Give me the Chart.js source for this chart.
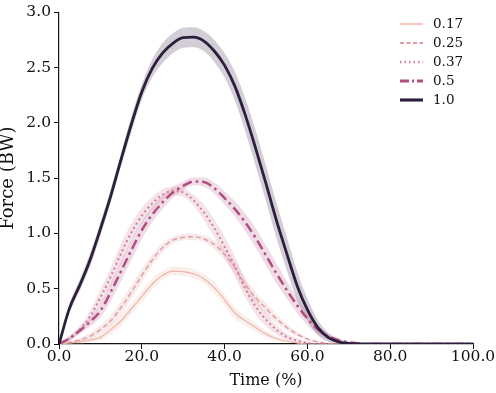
<!DOCTYPE html>
<html><head><meta charset="utf-8">
<script src="https://cdn.jsdelivr.net/npm/chart.js@4/dist/chart.umd.min.js"></script>
<style>html,body{margin:0;padding:0;background:#fff}canvas{display:block}</style>
</head><body>
<canvas id="c" width="496" height="393"></canvas>
<script>
// ---- data ----
const time = [0,2.5,5,7.5,10,12.5,15,17.5,20,22.5,25,27.5,30,32.5,35,37.5,40,42.5,45,47.5,50,52.5,55,57.5,60,62.5,65,67.5,70,75,80,85,90,95,100];
const seriesNames = ['0.17','0.25','0.37','0.5','1.0'];
const force017 = [0,0.01,0.02,0.035,0.06,0.13,0.21,0.32,0.43,0.54,0.62,0.66,0.655,0.635,0.59,0.51,0.4,0.28,0.21,0.15,0.09,0.05,0.025,0.01,0,0,0,0,0,0,0,0,0,0,0];
const force025 = [0,0.015,0.035,0.07,0.13,0.21,0.33,0.47,0.62,0.76,0.87,0.94,0.965,0.97,0.95,0.9,0.81,0.69,0.54,0.42,0.32,0.23,0.15,0.09,0.045,0.02,0.005,0,0,0,0,0,0,0,0];
const force037 = [0,0.05,0.13,0.25,0.42,0.61,0.82,1.01,1.16,1.27,1.35,1.385,1.37,1.3,1.19,1.05,0.88,0.7,0.5,0.34,0.22,0.13,0.065,0.03,0.01,0,0,0,0,0,0,0,0,0,0];
const force050 = [0,0.05,0.12,0.2,0.3,0.47,0.66,0.85,1.03,1.17,1.28,1.37,1.43,1.47,1.465,1.41,1.32,1.22,1.1,0.96,0.8,0.64,0.49,0.35,0.23,0.13,0.07,0.035,0.015,0,0,0,0,0,0];
const force100 = [0,0.32,0.53,0.76,1.04,1.34,1.67,1.99,2.28,2.49,2.63,2.72,2.77,2.775,2.74,2.65,2.52,2.33,2.07,1.77,1.45,1.12,0.82,0.53,0.31,0.15,0.06,0.02,0.005,0,0,0,0,0,0];
// band half-widths (confidence band)
const spread017 = [0,0.01,0.02,0.02,0.03,0.04,0.05,0.05,0.05,0.05,0.04,0.04,0.04,0.04,0.04,0.05,0.05,0.05,0.04,0.04,0.03,0.02,0.01,0,0,0,0,0,0,0,0,0,0,0,0];
const spread025 = [0,0.01,0.02,0.03,0.04,0.05,0.06,0.06,0.06,0.05,0.04,0.03,0.03,0.03,0.03,0.04,0.05,0.06,0.06,0.05,0.05,0.04,0.03,0.02,0.01,0.01,0,0,0,0,0,0,0,0,0];
const spread037 = [0,0.02,0.03,0.05,0.07,0.08,0.09,0.08,0.07,0.06,0.05,0.04,0.04,0.05,0.07,0.08,0.09,0.09,0.08,0.07,0.06,0.04,0.03,0.02,0.01,0,0,0,0,0,0,0,0,0,0];
const spread050 = [0,0.02,0.03,0.04,0.06,0.08,0.09,0.09,0.08,0.07,0.06,0.05,0.04,0.035,0.04,0.05,0.06,0.07,0.08,0.09,0.09,0.09,0.08,0.07,0.06,0.04,0.03,0.02,0.01,0,0,0,0,0,0];
const spread100 = [0,0.04,0.05,0.06,0.06,0.06,0.06,0.07,0.07,0.08,0.09,0.09,0.09,0.09,0.09,0.1,0.11,0.13,0.15,0.16,0.16,0.16,0.15,0.13,0.1,0.07,0.04,0.02,0.01,0,0,0,0,0,0];
const xTicks = [0,20,40,60,80,100];
const yTicks = [0,0.5,1,1.5,2,2.5,3];

// ---- styles ----
const means = [force017, force025, force037, force050, force100];
const spreads = [spread017, spread025, spread037, spread050, spread100];
const colors = ['#ecb6a8','#e09da3','#cf7f9c','#b24f80','#2d1e3e'];
const bandColors = ['rgba(236,182,168,0.22)','rgba(224,157,163,0.22)','rgba(207,127,156,0.22)','rgba(178,79,128,0.2)','rgba(45,30,62,0.22)'];
const widths = [1.2,1.5,2,2.5,2.8];
const dashes = [[],[5,3],[2,3],[10,4,2.5,4],[]];
const legendDashes = [[],[4,2.5],[1.5,3],[9,3,2,3],[]];
const FONT = '"DejaVu Serif", serif';

const pts = (arr) => time.map((t,i)=>({x:t,y:arr[i]}));
const datasets = [];
means.forEach((m,k)=>{
  const s = spreads[k];
  datasets.push({data: pts(m.map((v,i)=>Math.max(0,v-s[i]))), borderWidth:0, pointRadius:0, fill:false, order:2, cubicInterpolationMode:'monotone'});
  datasets.push({data: pts(m.map((v,i)=>v+s[i])), borderWidth:0, pointRadius:0, backgroundColor:bandColors[k], fill:'-1', order:2, cubicInterpolationMode:'monotone'});
});
means.forEach((m,k)=>{
  datasets.push({data: pts(m), borderColor:colors[k], borderWidth:widths[k], borderDash:dashes[k], pointRadius:0, fill:false, order: 1 - k*0.01, cubicInterpolationMode:'monotone'});
});

const legendPlugin = {
  id:'customLegend',
  afterDraw(chart){
    const ctx = chart.ctx;
    ctx.save();
    seriesNames.forEach((n,i)=>{
      const y = 24 + i*19;
      ctx.strokeStyle = colors[i];
      ctx.lineWidth = widths[i] + 0.3;
      ctx.setLineDash(legendDashes[i]);
      ctx.beginPath(); ctx.moveTo(400,y); ctx.lineTo(423,y); ctx.stroke();
      ctx.setLineDash([]);
      ctx.fillStyle = '#111';
      ctx.font = '13.5px ' + FONT;
      ctx.textBaseline = 'middle';
      ctx.textAlign = 'left';
      ctx.fillText(n, 433, y);
    });
    ctx.restore();
  }
};

new Chart(document.getElementById('c'), {
  type:'line',
  data:{datasets},
  plugins:[legendPlugin],
  options:{
    responsive:false, animation:false, devicePixelRatio:1,
    layout:{padding:{top:8,right:23,bottom:0,left:0}},
    plugins:{legend:{display:false}, tooltip:{enabled:false}},
    scales:{
      x:{type:'linear', min:0, max:100,
        afterBuildTicks(s){ s.ticks = xTicks.map(v=>({value:v})); },
        afterFit(s){ s.height = 49; },
        ticks:{callback:v=>Number(v).toFixed(1), font:{family:FONT,size:15.5}, color:'#111', padding:-1, maxRotation:0, autoSkip:false},
        grid:{drawOnChartArea:false, color:'#111', tickLength:5, tickWidth:1},
        border:{color:'#111', width:1.2},
        title:{display:true, text:'Time (%)', font:{family:FONT,size:16}, color:'#111', padding:{top:0,bottom:3}}
      },
      y:{min:0, max:3,
        afterBuildTicks(s){ s.ticks = yTicks.map(v=>({value:v})); },
        afterFit(s){ s.width = 59; },
        ticks:{callback:v=>Number(v).toFixed(1), font:{family:FONT,size:15.5}, color:'#111', padding:3, autoSkip:false},
        grid:{drawOnChartArea:false, color:'#111', tickLength:5, tickWidth:1},
        border:{color:'#111', width:1.2},
        title:{display:true, text:'Force (BW)', font:{family:FONT,size:18}, color:'#111', padding:{top:-2,bottom:0}}
      }
    }
  }
});
</script>
</body></html>
